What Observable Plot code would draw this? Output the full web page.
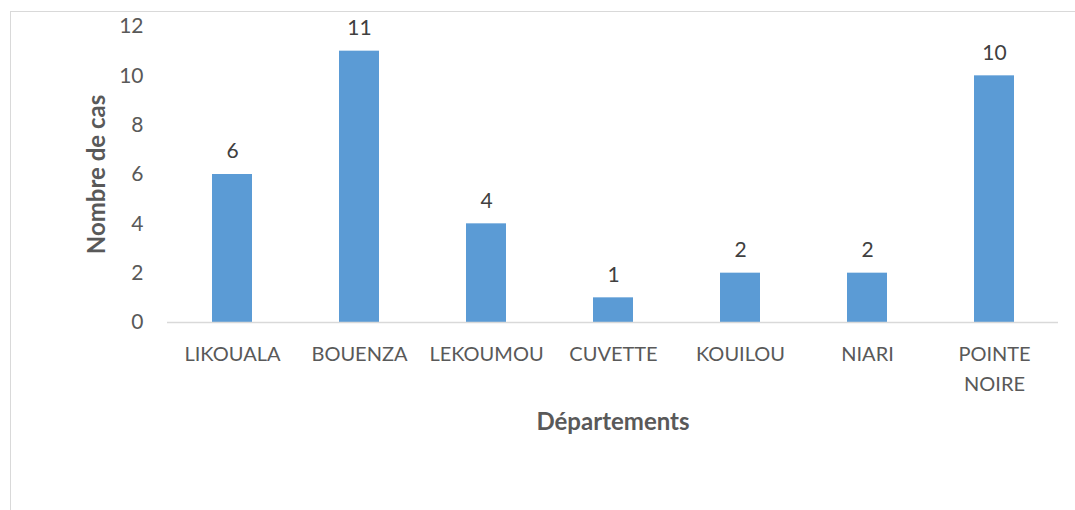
<!DOCTYPE html>
<html>
<head>
<meta charset="utf-8">
<script src="https://cdn.jsdelivr.net/npm/d3@7"></script>
<script src="https://cdn.jsdelivr.net/npm/@observablehq/plot@0.6"></script>
<style>
  html, body { margin: 0; padding: 0; background: #fff; }
  #wrap { position: relative; width: 1075px; height: 510px; overflow: hidden; }
  #frame { position: absolute; left: 10px; top: 11px; width: 1200px; height: 600px; border-left: 1.5px solid #d9d9d9; border-top: 1.5px solid #d9d9d9; box-sizing: border-box; pointer-events: none; }
  #chart { position: absolute; left: 0; top: 0; }
</style>
</head>
<body>
<div id="wrap"><div id="chart"></div><div id="frame"></div></div>
<script>
const departements = ["LIKOUALA", "BOUENZA", "LEKOUMOU", "CUVETTE", "KOUILOU", "NIARI", "POINTE NOIRE"];
const cas = [6, 11, 4, 1, 2, 2, 10];
const yTicks = [0, 2, 4, 6, 8, 10, 12];
const xLabels = ["LIKOUALA", "BOUENZA", "LEKOUMOU", "CUVETTE", "KOUILOU", "NIARI", "POINTE\nNOIRE"];

const data = departements.map((d, i) => ({dep: d, n: cas[i]}));
const font = "Lato, 'Open Sans', sans-serif";

const chart = Plot.plot({
  width: 1075,
  height: 510,
  marginLeft: 167,
  marginRight: 17,
  marginTop: 26,
  marginBottom: 188,
  style: {fontFamily: font, background: "transparent"},
  x: {domain: departements, paddingInner: 0.686, paddingOuter: 0.343, label: null},
  y: {domain: [0, 12], label: null},
  marks: [
    Plot.barY(data, {x: "dep", y: "n", fill: "#5b9bd5"}),
    Plot.ruleY([0], {stroke: "#d9d9d9", strokeWidth: 1.5}),
    Plot.text(data, {x: "dep", y: "n", text: d => String(d.n), dy: -23, fontSize: 21, fill: "#404040"}),
    Plot.axisY({ticks: yTicks, tickSize: 0, tickPadding: 24, fontSize: 21, color: "#595959", label: null}),
    Plot.axisX({tickSize: 0, tickPadding: 17, fontSize: 20, color: "#595959", lineHeight: 1.5, lineAnchor: "top",
      tickFormat: d => xLabels[departements.indexOf(d)], label: null}),
    Plot.text(["Nombre de cas"], {frameAnchor: "left", textAnchor: "middle", dx: -70, rotate: -90, fontSize: 24, fontWeight: "bold", fill: "#595959"}),
    Plot.text(["Départements"], {frameAnchor: "bottom", textAnchor: "middle", dy: 107, fontSize: 24, fontWeight: "bold", fill: "#595959"})
  ]
});
document.getElementById("chart").appendChild(chart);
</script>
</body>
</html>
